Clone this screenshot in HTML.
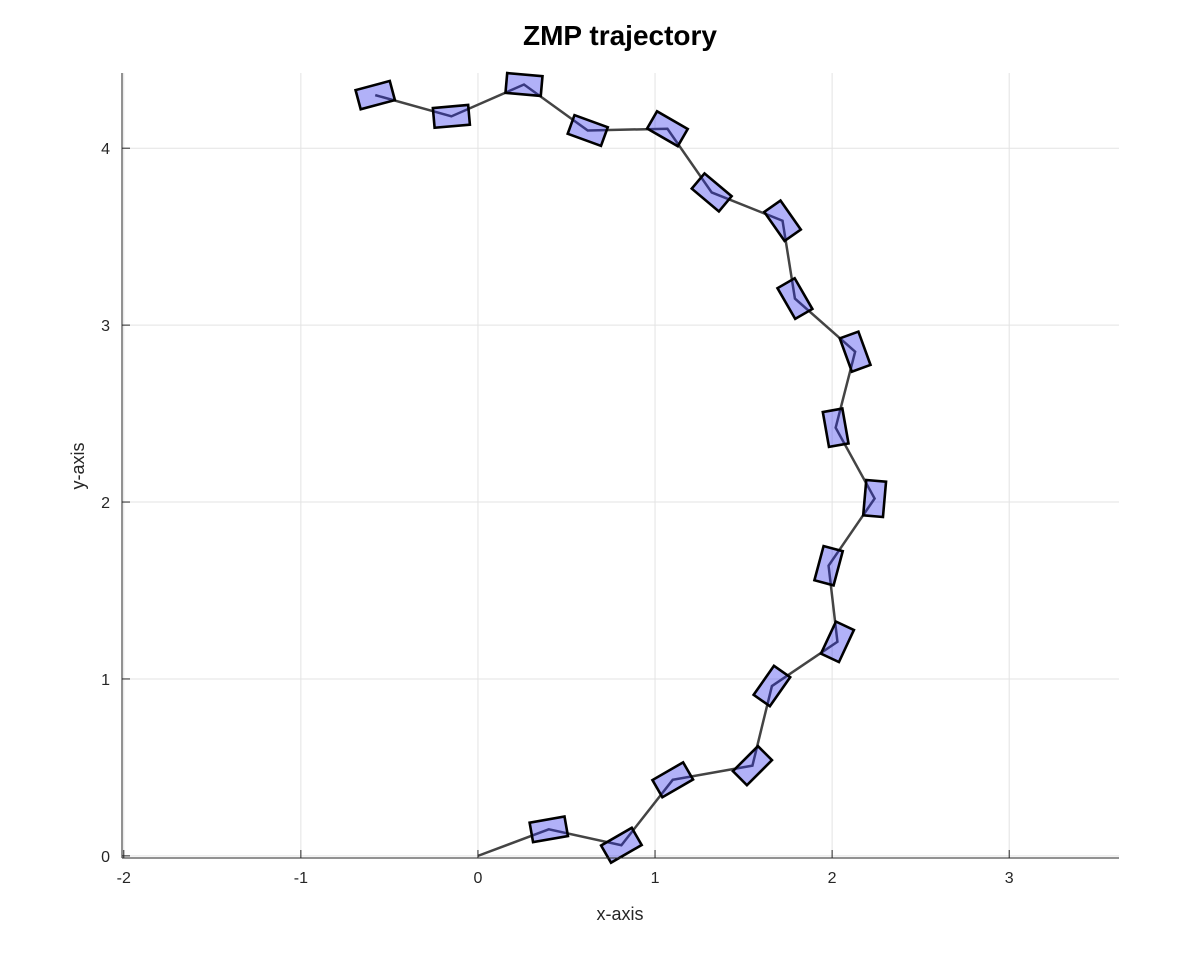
<!DOCTYPE html>
<html><head><meta charset="utf-8"><style>
body{margin:0;background:#fff;}
svg{display:block;font-family:"Liberation Sans",sans-serif;}
</style></head><body>
<svg id="chart" width="1190" height="965" viewBox="0 0 1190 965">
<text x="620" y="45" text-anchor="middle" font-size="28" font-weight="bold" fill="#000">ZMP trajectory</text>
<text x="620" y="920" text-anchor="middle" font-size="18" fill="#262626">x-axis</text>
<text transform="translate(84,466) rotate(-90)" text-anchor="middle" font-size="18" fill="#262626">y-axis</text>
<g id="grid"></g><g id="marks"></g><g id="axes"></g>
</svg>
<script>
const xTicks=[-2,-1,0,1,2,3];
const yTicks=[0,1,2,3,4];
const footX=[0.40,0.81,1.10,1.55,1.66,2.03,1.98,2.24,2.02,2.13,1.79,1.72,1.32,1.07,0.62,0.26,-0.15,-0.58];
const footY=[0.15,0.06,0.43,0.51,0.96,1.21,1.64,2.02,2.42,2.85,3.15,3.59,3.75,4.11,4.10,4.36,4.18,4.30];
const footAngle=[10,30,30,45,55,65,75,85,100,110,120,125,140,150,160,175,185,195];
const startX=0, startY=0;
const L=122,R=1119,T=73,B=858;
const xmin=-2.01,xmax=3.62,ymin=-0.012,ymax=4.425;
const sx=v=>L+(v-xmin)/(xmax-xmin)*(R-L);
const sy=v=>B-(v-ymin)/(ymax-ymin)*(B-T);
const ppu=(R-L)/(xmax-xmin);
const NS="http://www.w3.org/2000/svg";
function mk(tag,attrs,parent){const e=document.createElementNS(NS,tag);for(const k in attrs)e.setAttribute(k,attrs[k]);parent.appendChild(e);return e;}
const grid=document.getElementById('grid'),marks=document.getElementById('marks'),axes=document.getElementById('axes');
xTicks.forEach(t=>{
 const g=mk('line',{x1:sx(t),x2:sx(t),y1:T,y2:B,stroke:'#e3e3e3','stroke-width':1},grid);
 
 
 const tk=mk('line',{x1:sx(t),x2:sx(t),y1:B,y2:B-8,stroke:'#262626','stroke-width':1},axes);
 
 
 const tx=mk('text',{x:sx(t),y:B+25,'text-anchor':'middle','font-size':16,fill:'#262626'},axes);
 tx.textContent=t;
 
 
});
yTicks.forEach(t=>{
 const g=mk('line',{x1:L,x2:R,y1:sy(t),y2:sy(t),stroke:'#e3e3e3','stroke-width':1},grid);
 
 
 const tk=mk('line',{x1:L,x2:L+8,y1:sy(t),y2:sy(t),stroke:'#262626','stroke-width':1},axes);
 
 
 const tx=mk('text',{x:L-12,y:sy(t)+6,'text-anchor':'end','font-size':16,fill:'#262626'},axes);
 tx.textContent=t;
 
 
});
const ax1=mk('line',{x1:L,x2:L,y1:T,y2:B,stroke:'#262626','stroke-width':1},axes);


const ax2=mk('line',{x1:L,x2:R,y1:B,y2:B,stroke:'#262626','stroke-width':1},axes);


let pts=[[sx(startX),sy(startY)]];
footX.forEach((x,i)=>pts.push([sx(x),sy(footY[i])]));
const path=mk('polyline',{points:pts.map(p=>p.join(',')).join(' '),fill:'none',stroke:'#444','stroke-width':2.5},marks);


const fw=0.2*ppu,fh=0.112*ppu;
footX.forEach((x,i)=>{
 const cx=sx(x),cy=sy(footY[i]);
 const r=mk('rect',{x:cx-fw/2,y:cy-fh/2,width:fw,height:fh,fill:'rgba(40,40,235,0.36)',stroke:'#000','stroke-width':2.6,transform:`rotate(${-footAngle[i]} ${cx} ${cy})`},marks);
 
 
});
</script>
</body></html>
